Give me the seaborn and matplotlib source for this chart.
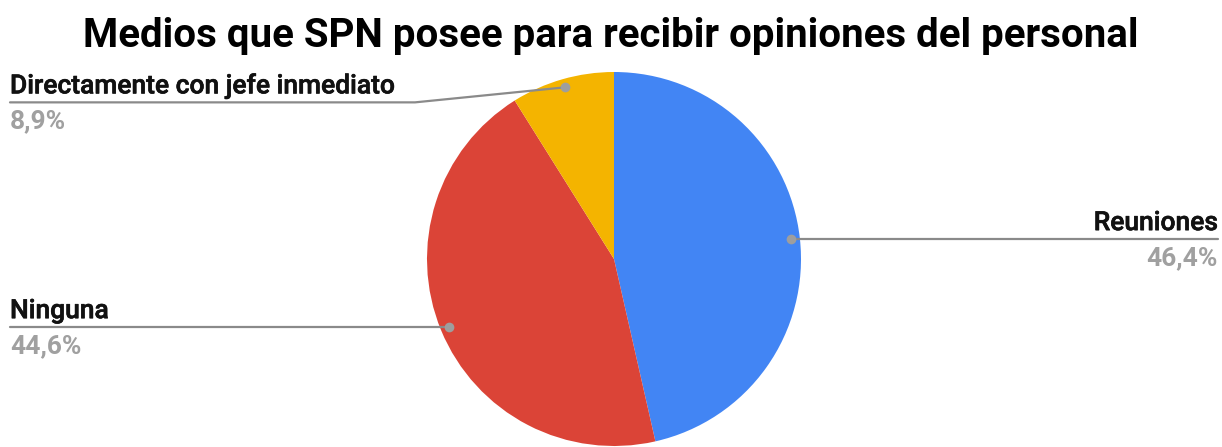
import numpy as np
import matplotlib
matplotlib.use("Agg")
import matplotlib.pyplot as plt
import matplotlib.patheffects as pe
import seaborn as sns

# Survey results
categories = ["Reuniones", "Ninguna", "Directamente con jefe inmediato"]
values = [46.4, 44.6, 8.9]
pct_labels = ["46,4%", "44,6%", "8,9%"]
colors = ["#4285F4", "#DB4437", "#F4B400"]
title = "Medios que SPN posee para recibir opiniones del personal"

sns.set_theme(style="white")
plt.rcParams["font.family"] = ["Roboto", "DejaVu Sans"]

W, H = 1222, 447
fig = plt.figure(figsize=(W / 100, H / 100), dpi=100)
ax = fig.add_axes([0, 0, 1, 1])

cx, cy, R = 614, H - 259, 187
ax.pie(values, colors=colors, startangle=90, counterclock=False,
       center=(cx, cy), radius=R, normalize=True,
       wedgeprops=dict(linewidth=0))
ax.set_xlim(0, W)
ax.set_ylim(0, H)
ax.set_aspect("equal")
ax.axis("off")

ax.text(W / 2, H - 47, title, ha="center", va="baseline",
        fontsize=29, fontweight="bold", color="#000000")

# Leader dots at the middle of each slice
frac = np.array(values) / np.sum(values)
mids = np.cumsum(frac) - frac / 2
line_c = "#8a8a8a"
dot_c = "#9e9e9e"
label_kw = dict(fontsize=19, fontweight="medium", color="#111111",
                path_effects=[pe.withStroke(linewidth=0.45, foreground="#111111")])
pct_kw = dict(fontsize=19, fontweight="bold", color="#a0a0a0")

for i, (name, pct, m) in enumerate(zip(categories, pct_labels, mids)):
    ang = 2 * np.pi * m
    dx, dy = cx + 0.955 * R * np.sin(ang), cy + 0.955 * R * np.cos(ang)
    ax.plot(dx, dy, "o", ms=7, color=dot_c, zorder=5, mec="none")
    if i == 0:
        x_end = 1218
        ax.plot([dx, x_end], [dy, dy], color=line_c, lw=1.6, zorder=4)
        ax.text(x_end, dy + 9, name, ha="right", va="baseline", **label_kw)
        ax.text(x_end, dy - 7, pct, ha="right", va="top", **pct_kw)
    elif i == 1:
        x_end = 10
        ax.plot([x_end, dx], [dy, dy], color=line_c, lw=1.6, zorder=4)
        ax.text(x_end, dy + 9, name, ha="left", va="baseline", **label_kw)
        ax.text(x_end, dy - 7, pct, ha="left", va="top", **pct_kw)
    else:
        x_end = 10
        ly = dy - 15
        ax.plot([x_end, 415, dx], [ly, ly, dy], color=line_c, lw=1.6, zorder=4)
        ax.text(x_end, ly + 9, name, ha="left", va="baseline", **label_kw)
        ax.text(x_end, ly - 7, pct, ha="left", va="top", **pct_kw)

fig.savefig("out.png", dpi=100)
